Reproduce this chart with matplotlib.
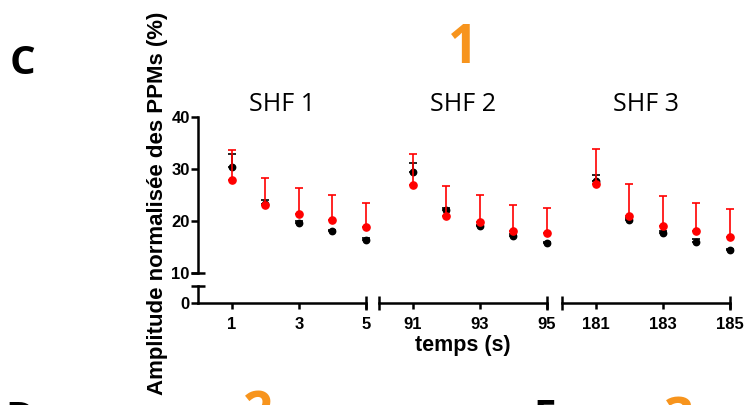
import matplotlib
matplotlib.use("Agg")
import matplotlib.pyplot as plt

plt.rcParams['font.family'] = ['Liberation Sans', 'DejaVu Sans']

# three stimulation blocks, 5 pulses each
temps = [[1, 2, 3, 4, 5], [91, 92, 93, 94, 95], [181, 182, 183, 184, 185]]
xlims = [(0, 5), (90, 95), (180, 185)]
xticks = [[1, 3, 5], [91, 93, 95], [181, 183, 185]]
titres = ['SHF 1', 'SHF 2', 'SHF 3']

# mean amplitude (%) and upper SEM
noir = [[30.3, 23.3, 19.6, 18.0, 16.3],
        [29.3, 22.0, 18.9, 17.0, 15.7],
        [27.6, 20.2, 17.6, 16.0, 14.3]]
noir_err = [[2.5, 0.6, 0.3, 0.3, 0.3],
            [1.7, 0.5, 0.3, 0.5, 0.3],
            [1.1, 0.4, 0.5, 0.5, 0.3]]
rouge = [[27.8, 23.0, 21.2, 20.1, 18.85],
         [26.8, 21.0, 19.7, 18.1, 17.6],
         [27.0, 20.9, 19.0, 18.0, 16.9]]
rouge_err = [[5.8, 5.2, 5.0, 4.8, 4.65],
             [6.0, 5.6, 5.2, 5.0, 4.8],
             [6.8, 6.1, 5.8, 5.5, 5.3]]

W, H = 749, 405
fig = plt.figure(figsize=(W / 100, H / 100), dpi=100)

lw = 1.8
lefts = [198, 379, 562]
seg_w = 168
top_y0, top_y1 = 272.7, 116.7
bot_y0, bot_y1 = 303.3, 286.0

for i in range(3):
    l = lefts[i] / W
    w = seg_w / W
    ax = fig.add_axes([l, 1 - top_y0 / H, w, (top_y0 - top_y1) / H])
    axb = fig.add_axes([l, 1 - bot_y0 / H, w, (bot_y0 - bot_y1) / H])
    for a in (ax, axb):
        a.set_xlim(*xlims[i])
        a.patch.set_alpha(0)
        for s in a.spines.values():
            s.set_visible(False)
            s.set_linewidth(lw)
    ax.set_ylim(10, 40)
    axb.set_ylim(0, 3.3)
    ax.set_xticks([])

    # black group
    ax.errorbar(temps[i], noir[i], yerr=[[0] * 5, noir_err[i]], fmt='o',
                color='black', ms=4.6, elinewidth=1.2, capsize=3, capthick=1.2,
                clip_on=False, zorder=3)
    # red group
    ax.errorbar(temps[i], rouge[i], yerr=[[0] * 5, rouge_err[i]], fmt='o',
                color='#ff0000', ms=5.2, elinewidth=1.2, capsize=3, capthick=1.2,
                clip_on=False, zorder=4)

    ax.set_title(titres[i], fontsize=18, family='Open Sans', pad=3)

    # x axis on the lower strip, with end caps
    axb.spines['bottom'].set_visible(True)
    axb.set_xticks(xticks[i])
    axb.set_xticklabels([str(t) for t in xticks[i]], fontsize=12, fontweight='bold')
    axb.set_xticks(list(xlims[i]) if i > 0 else [xlims[i][1]], minor=True)
    axb.xaxis.remove_overlapping_locs = False
    axb.tick_params(axis='x', which='major', direction='out', length=4, width=lw, pad=6)
    axb.tick_params(axis='x', which='minor', direction='inout', length=10, width=lw)

    if i == 0:
        ax.spines['left'].set_visible(True)
        ax.set_yticks([10, 20, 30, 40])
        ax.set_yticklabels(['10', '20', '30', '40'], fontsize=12, fontweight='bold')
        ax.set_yticks([10], minor=True)
        ax.yaxis.remove_overlapping_locs = False
        ax.tick_params(axis='y', which='major', direction='out', length=5, width=lw, pad=1)
        ax.tick_params(axis='y', which='minor', direction='inout', length=10, width=lw)

        axb.spines['left'].set_visible(True)
        axb.set_yticks([0])
        axb.set_yticklabels(['0'], fontsize=12, fontweight='bold')
        axb.set_yticks([3.3], minor=True)
        axb.tick_params(axis='y', which='major', direction='out', length=5, width=lw, pad=1)
        axb.tick_params(axis='y', which='minor', direction='inout', length=10, width=lw)
    else:
        ax.set_yticks([])
        axb.set_yticks([])

fig.text(157 / W, 1 - 203 / H, 'Amplitude normalisée des PPMs (%)', rotation=90,
         ha='center', va='center', fontsize=16, fontweight='bold')
fig.text(463 / W, 1 - 345 / H, 'temps (s)', ha='center', va='center',
         fontsize=15.5, fontweight='bold')

# panel letters and condition numbers (next row starts just below)
fig.text(22 / W, 1 - 63 / H, 'C', ha='center', va='center', fontsize=29,
         fontweight='bold', family='Open Sans')
fig.text(463 / W, 1 - 49 / H, '1', ha='center', va='center', fontsize=38,
         fontweight='bold', family='Open Sans', color='#f7941d')
fig.text(20 / W, 1 - 420 / H, 'D', ha='center', va='center', fontsize=29,
         fontweight='bold', family='Open Sans')
fig.text(258 / W, 1 - 416 / H, '2', ha='center', va='center', fontsize=38,
         fontweight='bold', family='Open Sans', color='#f7941d')
fig.text(545 / W, 1 - 418 / H, 'E', ha='center', va='center', fontsize=29,
         fontweight='bold', family='Open Sans')
fig.text(679 / W, 1 - 422 / H, '3', ha='center', va='center', fontsize=38,
         fontweight='bold', family='Open Sans', color='#f7941d')

fig.savefig('out.png', dpi=100)
